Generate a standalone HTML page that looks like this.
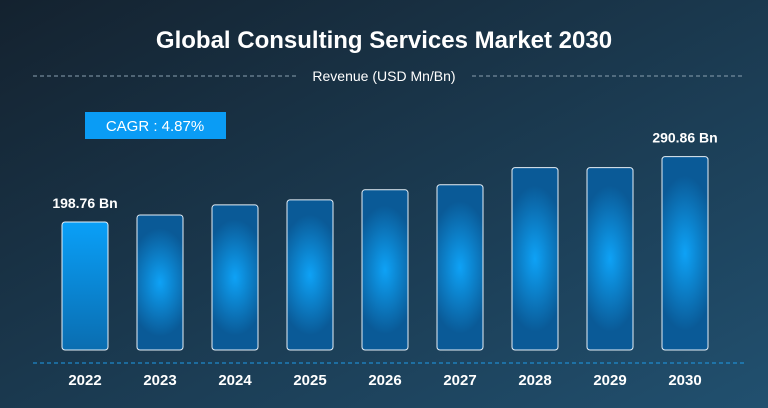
<!DOCTYPE html>
<html><head><meta charset="utf-8"><style>
html,body{margin:0;padding:0;width:768px;height:408px;overflow:hidden}
body{font-family:"Liberation Sans",sans-serif}
</style></head><body>
<svg id="chart" width="768" height="408" xmlns="http://www.w3.org/2000/svg">
<defs>
<linearGradient id="bg" x1="0" y1="0" x2="1" y2="1">
<stop offset="0" stop-color="#14222f"/><stop offset="1" stop-color="#21506f"/></linearGradient>
<linearGradient id="first" x1="0" y1="0" x2="0" y2="1">
<stop offset="0" stop-color="#0aa0f8"/><stop offset="1" stop-color="#0a6db0"/></linearGradient>
<radialGradient id="glow" cx="0.5" cy="0.5" r="0.5" fx="0.5" fy="0.5" gradientTransform="translate(0.5 0.5) scale(1.4 0.8) translate(-0.5 -0.5)">
<stop offset="0" stop-color="#0ea2f6"/><stop offset="1" stop-color="#0a5a97"/></radialGradient>
</defs>
<rect width="768" height="408" fill="url(#bg)"/>
<text x="384" y="48" text-anchor="middle" fill="#fff" font-size="24" font-weight="bold">Global Consulting Services Market 2030</text>
<line x1="33" y1="76" x2="296" y2="76" stroke="#8aa0b0" stroke-dasharray="4,3"/>
<line x1="472" y1="76" x2="744" y2="76" stroke="#8aa0b0" stroke-dasharray="4,3"/>
<text x="384" y="81" text-anchor="middle" fill="#fff" font-size="14">Revenue (USD Mn/Bn)</text>
<rect x="85" y="112" width="141" height="27" fill="#0a9cf5"/>
<text x="155" y="131" text-anchor="middle" fill="#fff" font-size="15">CAGR : 4.87%</text>
<line x1="33" y1="363" x2="744" y2="363" stroke="#1e9be8" stroke-dasharray="4,3"/>
<g id="bars"></g>
</svg>
<script>
const years=["2022","2023","2024","2025","2026","2027","2028","2029","2030"];
const values=[198.76,208.7,222.8,229.9,244.1,251.2,275.3,275.3,290.86];
const valueLabels=["198.76 Bn","","","","","","","","290.86 Bn"];
const NS="http://www.w3.org/2000/svg";
const g=document.getElementById('bars');
const x=i=>62+i*75;
const y=v=>222-(v-198.76)*0.71;
const bottom=350;
years.forEach((yr,i)=>{
  const r=document.createElementNS(NS,'rect');
  
  
  const top=y(values[i]);
  r.setAttribute('x',x(i));r.setAttribute('y',top);
  r.setAttribute('width',46);r.setAttribute('height',bottom-top);
  r.setAttribute('rx',3);
  r.setAttribute('fill',i===0?'url(#first)':'url(#glow)');
  r.setAttribute('stroke','#e6f0f8');r.setAttribute('stroke-width','1');
  g.appendChild(r);
  const t=document.createElementNS(NS,'text');
  
  
  t.setAttribute('x',x(i)+23);t.setAttribute('y',385);
  t.setAttribute('text-anchor','middle');t.setAttribute('fill','#fff');
  t.setAttribute('font-size','15');t.setAttribute('font-weight','bold');
  t.textContent=yr;g.appendChild(t);
  if(valueLabels[i]){
    const l=document.createElementNS(NS,'text');
    
    
    l.setAttribute('x',x(i)+23);l.setAttribute('y',top-14);
    l.setAttribute('text-anchor','middle');l.setAttribute('fill','#fff');
    l.setAttribute('font-size','14');l.setAttribute('font-weight','bold');
    l.textContent=valueLabels[i];g.appendChild(l);
  }
});
</script>
</body></html>
